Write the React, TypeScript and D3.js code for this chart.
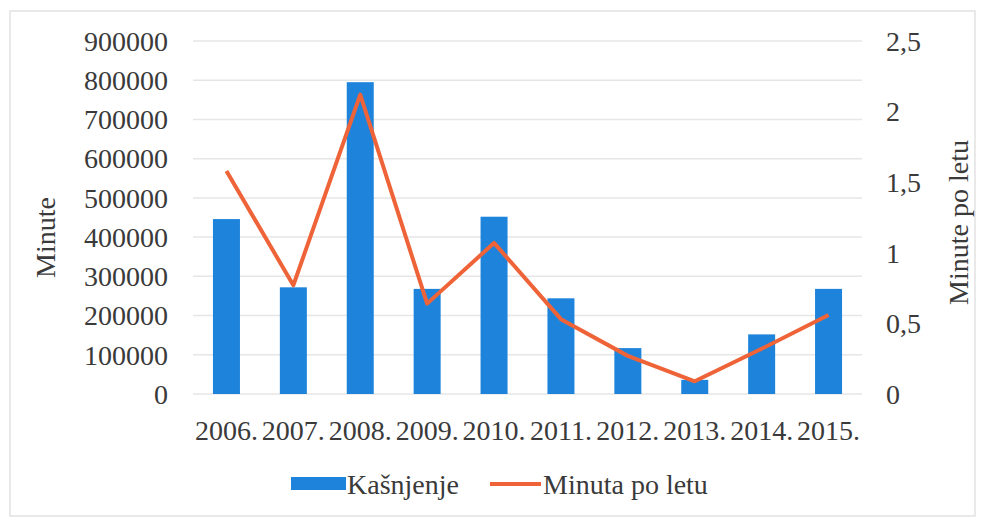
import React from "react";
import * as d3 from "d3";

const years = ["2006.", "2007.", "2008.", "2009.", "2010.", "2011.", "2012.", "2013.", "2014.", "2015."];
const kasnjenje = [446000, 272000, 795000, 268000, 452000, 244000, 117000, 36000, 152000, 268000];
const minutaPoLetu = [1.58, 0.77, 2.12, 0.64, 1.07, 0.53, 0.27, 0.09, 0.32, 0.56];
const leftTicks = [0, 100000, 200000, 300000, 400000, 500000, 600000, 700000, 800000, 900000];
const rightTicks = [0, 0.5, 1, 1.5, 2, 2.5];

const W = 981;
const H = 520;
const plotL = 193;
const plotR = 862;
const plotT = 41;
const plotB = 394;
const font = "'Liberation Serif', 'Times New Roman', serif";
const textColor = "#3a3a3a";
const fs = 28;

export default function App() {
  const xc = d3.scaleBand<string>().domain(years).range([plotL, plotR]);
  const yL = d3.scaleLinear().domain([0, 900000]).range([plotB, plotT]);
  const yR = d3.scaleLinear().domain([0, 2.5]).range([plotB, plotT]);
  const line = d3
    .line<number>()
    .x((_, i) => (xc(years[i]) as number) + xc.bandwidth() / 2)
    .y((d) => yR(d));

  return (
    <svg width={W} height={H} style={{ position: "absolute", left: 0, top: 0, background: "#fff" }}>
      <rect x={0} y={0} width={W} height={H} fill="#fff" />
      <rect x={10} y={11} width={965} height={505} fill="none" stroke="#e2e2e2" strokeWidth={1.5} />
      {leftTicks.map((t) => (
        <line key={"g" + t} x1={plotL} x2={plotR} y1={yL(t)} y2={yL(t)} stroke="#e6e6e6" strokeWidth={1.5} />
      ))}
      {years.map((yr, i) => (
        <rect
          key={yr}
          x={(xc(yr) as number) + xc.bandwidth() / 2 - 13.5}
          width={27}
          y={yL(kasnjenje[i])}
          height={plotB - yL(kasnjenje[i])}
          fill="#1e84db"
        />
      ))}
      <path d={line(minutaPoLetu) || ""} fill="none" stroke="#ef6338" strokeWidth={4} strokeLinejoin="round" />
      {leftTicks.map((t) => (
        <text key={"l" + t} x={168} y={yL(t)} dy="0.35em" textAnchor="end" fontFamily={font} fontSize={fs} fill={textColor}>
          {t}
        </text>
      ))}
      {rightTicks.map((t) => (
        <text key={"r" + t} x={886} y={yR(t)} dy="0.35em" textAnchor="start" fontFamily={font} fontSize={fs} fill={textColor}>
          {String(t).replace(".", ",")}
        </text>
      ))}
      {years.map((yr) => (
        <text
          key={"x" + yr}
          x={(xc(yr) as number) + xc.bandwidth() / 2}
          y={440}
          textAnchor="middle"
          fontFamily={font}
          fontSize={fs}
          fill={textColor}
        >
          {yr}
        </text>
      ))}
      <text
        transform={`translate(55,${(plotT + plotB) / 2 + 20}) rotate(-90)`}
        textAnchor="middle"
        fontFamily={font}
        fontSize={fs}
        fill={textColor}
      >
        Minute
      </text>
      <text
        transform={`translate(968,${(plotT + plotB) / 2 + 5}) rotate(-90)`}
        textAnchor="middle"
        fontFamily={font}
        fontSize={fs}
        fill={textColor}
      >
        Minute po letu
      </text>
      <rect x={291} y={477} width={55} height={13} fill="#1e84db" />
      <text x={347} y={494} fontFamily={font} fontSize={fs} fill={textColor}>
        Kašnjenje
      </text>
      <line x1={490} x2={541} y1={484} y2={484} stroke="#ef6338" strokeWidth={4} />
      <text x={543} y={494} fontFamily={font} fontSize={fs} fill={textColor}>
        Minuta po letu
      </text>
    </svg>
  );
}
